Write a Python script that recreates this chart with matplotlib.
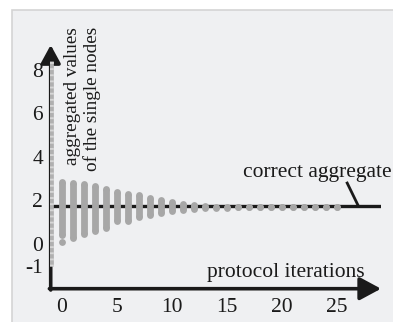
import matplotlib
matplotlib.use("Agg")
import matplotlib.pyplot as plt
from matplotlib.patches import Rectangle

# node values per protocol iteration (centres of the dot columns)
iterations = list(range(26))
highest = [2.84, 2.81, 2.74, 2.66, 2.53, 2.40, 2.32, 2.23, 2.12, 2.02, 1.92, 1.85, 1.79,
           1.74, 1.71, 1.69, 1.68, 1.68, 1.68, 1.68, 1.68, 1.68, 1.68, 1.68, 1.68, 1.68]
lowest = [0.43, 0.28, 0.47, 0.62, 0.74, 1.05, 1.08, 1.23, 1.34, 1.43, 1.51, 1.57, 1.62,
          1.64, 1.66, 1.67, 1.68, 1.68, 1.68, 1.68, 1.68, 1.68, 1.68, 1.68, 1.68, 1.68]
outlier_x = [0]
outlier_y = [0.08]

# initial values, drawn along the y axis
initial_x = -1
initial_lo = -1
initial_hi = 8.4

correct_aggregate = 1.76

xticks = [0, 5, 10, 15, 20, 25]
yticks = [-1, 0, 2, 4, 6, 8]

GRAY = "#a7a7a7"
BLACK = "#1a1a1a"
FS = 15.5

plt.rcParams["font.family"] = ["Liberation Serif", "DejaVu Serif"]

fig = plt.figure(figsize=(3.93, 3.22), dpi=100)
fig.patch.set_facecolor("white")
fig.add_artist(Rectangle((12 / 393, -0.1), 1.3, (322 - 10) / 322 + 0.1,
                         transform=fig.transFigure, facecolor="#eff0f2",
                         edgecolor="#d4d4d4", lw=1.2, zorder=0))

ax = fig.add_axes([50 / 393, 33.3 / 322, 331 / 393, 243.7 / 322])
ax.patch.set_visible(False)
ax.set_xlim(-1.064, 29.03)
ax.set_ylim(-2.055, 9.149)
for s in ax.spines.values():
    s.set_visible(False)

ax.set_xticks(xticks)
ax.set_xticklabels([str(t) for t in xticks])
ax.set_yticks(yticks)
ax.set_yticklabels([str(t) for t in yticks])
ax.tick_params(axis="both", length=0, labelsize=FS, colors=BLACK)
ax.tick_params(axis="x", pad=7)
ax.tick_params(axis="y", pad=5)

x0, y0 = -1, -2.055
# axes with arrow heads
ax.annotate("", xy=(29.03, y0), xytext=(x0 - 0.12, y0),
            arrowprops=dict(arrowstyle="-|>,head_length=13,head_width=7",
                            mutation_scale=1, lw=2.6, color=BLACK,
                            shrinkA=0, shrinkB=0),
            annotation_clip=False, zorder=2)
ax.annotate("", xy=(x0, 9.149), xytext=(x0, y0 - 0.06),
            arrowprops=dict(arrowstyle="-|>,head_length=11,head_width=6",
                            mutation_scale=1, lw=2.6, color=BLACK,
                            shrinkA=0, shrinkB=0),
            annotation_clip=False, zorder=2)

# correct aggregate line
ax.plot([x0, 29.0], [correct_aggregate, correct_aggregate], color=BLACK,
        lw=2.4, solid_capstyle="butt", zorder=3)
ax.plot([25.9, 26.96], [2.86, correct_aggregate], color=BLACK, lw=2.0,
        solid_capstyle="butt", zorder=3)

# initial values column on the y axis
ax.vlines([initial_x], [initial_lo], [initial_hi], colors="#b0b0b0",
          linewidth=3.4, zorder=4)
ax.vlines([initial_x], [initial_lo], [initial_hi], colors="#d6d6d6",
          linewidth=3.4, linestyles=(0, (0.4, 0.9)), zorder=4)

# node values per iteration
DOT = 4.9
ax.vlines(iterations, lowest, highest, colors=GRAY, linewidth=DOT, zorder=5)
ax.scatter(iterations, lowest, s=DOT ** 2, color=GRAY, lw=0, zorder=5)
ax.scatter(iterations, highest, s=DOT ** 2, color=GRAY, lw=0, zorder=5)
ax.scatter(outlier_x, outlier_y, s=DOT ** 2, color=GRAY, lw=0, zorder=5)

ax.text(16.5, 3.09, "correct aggregate", fontsize=FS, color=BLACK,
        ha="left", va="baseline")
ax.text(13.2, -1.53, "protocol iterations", fontsize=FS, color=BLACK,
        ha="left", va="baseline")
ax.text(1.91, 9.98, "aggregated values\nof the single nodes", fontsize=13.8,
        color=BLACK, rotation=90, ha="center", va="top",
        multialignment="right", linespacing=1.15)

fig.savefig("out.png", dpi=100)
